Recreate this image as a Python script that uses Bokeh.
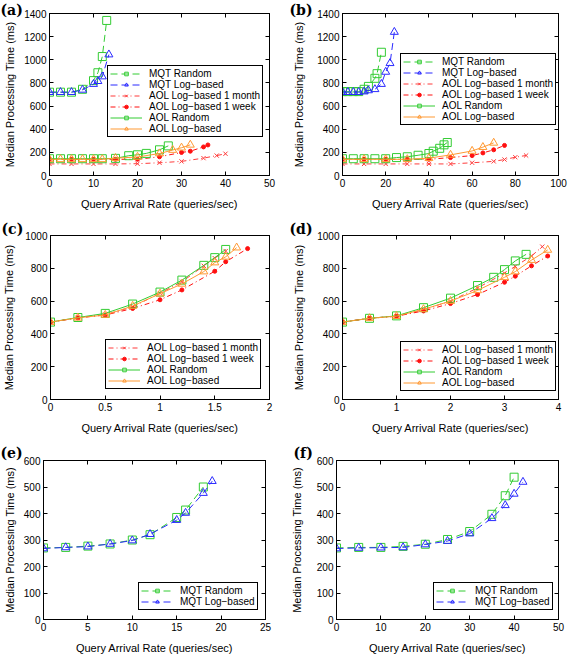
from bokeh.plotting import figure
from bokeh.layouts import column, row
from bokeh.models import FixedTicker, Legend, LegendItem, Title, LinearAxis, Range1d
from bokeh.embed import file_html
from bokeh.resources import INLINE

# ---------------- data ----------------
# Panel (a)
A_MQT_R_X = [0, 2.5, 5, 7.5, 10, 11, 12, 13]
A_MQT_R_Y = [720, 720, 720, 745, 820, 888, 1028, 1340]
A_MQT_L_X = [0, 2.5, 5, 7.5, 10, 11, 12, 13.5]
A_MQT_L_Y = [720, 720, 720, 740, 790, 815, 855, 1045]
A_AOL_M_X = [0, 5, 10, 15, 20, 25, 30, 35, 38, 40]
A_AOL_M_Y = [100, 100, 100, 100, 102, 110, 122, 150, 172, 188]
A_AOL_W_X = [0, 5, 10, 15, 20, 25, 30, 32, 35, 36]
A_AOL_W_Y = [140, 140, 140, 140, 140, 162, 199, 210, 247, 264]
A_AOL_R_X = [0, 2.5, 5, 7.5, 10, 12, 15, 18, 20, 22, 25, 27]
A_AOL_R_Y = [145, 145, 145, 145, 145, 145, 148, 171, 179, 191, 222, 256]
A_AOL_L_X = [0, 2.5, 5, 7.5, 10, 12, 15, 20, 25, 28, 30, 32]
A_AOL_L_Y = [140, 140, 140, 140, 140, 140, 150, 160, 190, 220, 240, 265]

# Panel (b)
B_MQT_R_X = [0, 2.5, 5, 7.5, 10, 12, 15, 16, 18]
B_MQT_R_Y = [725, 725, 725, 725, 745, 770, 840, 880, 1065]
B_MQT_L_X = [0, 2.5, 5, 7.5, 10, 12, 15, 18, 20, 22, 24]
B_MQT_L_Y = [720, 720, 720, 720, 725, 735, 745, 790, 895, 970, 1240]
B_AOL_M_X = [0, 10, 20, 30, 40, 50, 60, 70, 75, 80, 85]
B_AOL_M_Y = [100, 100, 100, 100, 100, 100, 110, 122, 138, 158, 173]
B_AOL_W_X = [0, 10, 20, 30, 40, 50, 60, 65, 70, 75]
B_AOL_W_Y = [140, 140, 140, 140, 140, 155, 172, 195, 222, 260]
B_AOL_R_X = [0, 5, 10, 15, 20, 25, 30, 35, 40, 42, 45, 47, 48.5]
B_AOL_R_Y = [145, 145, 145, 145, 145, 155, 162, 175, 190, 210, 235, 265, 285]
B_AOL_L_X = [0, 10, 20, 30, 40, 50, 60, 65, 70]
B_AOL_L_Y = [140, 140, 140, 140, 150, 178, 212, 245, 282]

# Panel (c)
C_AOL_M_X = [0, 0.25, 0.5, 0.75, 1.0, 1.2, 1.4, 1.5, 1.6]
C_AOL_M_Y = [472, 498, 518, 565, 648, 718, 815, 862, 905]
C_AOL_W_X = [0, 0.25, 0.5, 0.75, 1.0, 1.2, 1.5, 1.6, 1.8]
C_AOL_W_Y = [472, 498, 515, 555, 608, 668, 782, 840, 920]
C_AOL_R_X = [0, 0.25, 0.5, 0.75, 1.0, 1.2, 1.4, 1.5, 1.6]
C_AOL_R_Y = [472, 500, 525, 582, 655, 728, 818, 865, 915]
C_AOL_L_X = [0, 0.25, 0.5, 0.75, 1.0, 1.2, 1.4, 1.5, 1.6, 1.7]
C_AOL_L_Y = [472, 498, 515, 570, 645, 705, 780, 835, 870, 926]

# Panel (d)
D_AOL_M_X = [0, 0.5, 1, 1.5, 2, 2.5, 3, 3.2, 3.5, 3.7]
D_AOL_M_Y = [472, 495, 508, 548, 600, 680, 770, 812, 875, 932]
D_AOL_W_X = [0, 0.5, 1, 1.5, 2, 2.5, 3, 3.2, 3.5, 3.8]
D_AOL_W_Y = [472, 495, 508, 540, 585, 640, 715, 752, 815, 875]
D_AOL_R_X = [0, 0.5, 1, 1.5, 2, 2.5, 2.8, 3, 3.2, 3.4]
D_AOL_R_Y = [472, 495, 510, 560, 618, 695, 745, 792, 845, 885]
D_AOL_L_X = [0, 0.5, 1, 1.5, 2, 2.5, 3, 3.2, 3.5, 3.8]
D_AOL_L_Y = [472, 495, 508, 550, 600, 665, 745, 780, 850, 912]

# Panel (e)
E_MQT_R_X = [0, 2.5, 5, 7.5, 10, 12, 15, 16, 18]
E_MQT_R_Y = [270, 272, 277, 285, 300, 320, 385, 413, 500]
E_MQT_L_X = [0, 2.5, 5, 7.5, 10, 12, 15, 16, 18, 19]
E_MQT_L_Y = [268, 272, 275, 285, 298, 322, 375, 402, 477, 522]

# Panel (f)
F_MQT_R_X = [0, 5, 10, 15, 20, 25, 30, 35, 38, 40]
F_MQT_R_Y = [270, 272, 272, 276, 284, 302, 332, 397, 467, 537]
F_MQT_L_X = [0, 5, 10, 15, 20, 25, 30, 35, 38, 40, 42]
F_MQT_L_Y = [268, 270, 271, 272, 283, 296, 324, 382, 431, 474, 519]

LABEL_MQT_R = "MQT Random"
LABEL_MQT_L = "MQT Log\u2212based"
LABEL_AOL_M = "AOL Log\u2212based 1 month"
LABEL_AOL_W = "AOL Log\u2212based 1 week"
LABEL_AOL_R = "AOL Random"
LABEL_AOL_L = "AOL Log\u2212based"

X_LABEL = "Query Arrival Rate (queries/sec)"
Y_LABEL = "Median Processing Time (ms)"

TICKS_A_X = [0, 10, 20, 30, 40, 50]
TICKS_B_X = [0, 20, 40, 60, 80, 100]
TICKS_C_X = [0, 0.5, 1, 1.5, 2]
TICKS_D_X = [0, 1, 2, 3, 4]
TICKS_E_X = [0, 5, 10, 15, 20, 25]
TICKS_F_X = [0, 10, 20, 30, 40, 50]
TICKS_AB_Y = [0, 200, 400, 600, 800, 1000, 1200, 1400]
TICKS_CD_Y = [0, 200, 400, 600, 800, 1000]
TICKS_EF_Y = [0, 100, 200, 300, 400, 500, 600]

# ---------------- styles ----------------
FONT = "Liberation Sans"
STYLES = {
    "mqt_r": dict(color="#33cc33", dash="7 4", marker="square", size=8, fill=None),
    "mqt_l": dict(color="#2a2aff", dash="7 4", marker="triangle", size=8, fill=None),
    "aol_m": dict(color="#ff3b3b", dash="5 3 1 3", marker="x", size=6, fill=None),
    "aol_w": dict(color="#ff1010", dash="5 3 1 3", marker="circle", size=4, fill="#ff1010"),
    "aol_r": dict(color="#33cc33", dash="solid", marker="square", size=8, fill=None),
    "aol_l": dict(color="#ff9933", dash="solid", marker="triangle", size=8, fill=None),
}


def make_fig(width, height, bl, br, bt, bb, xmax, xticks, ymax, yticks, tag, tag_x,
             ylab_standoff, tag_standoff):
    p = figure(width=width, height=height, output_backend="svg", toolbar_location=None,
               x_range=Range1d(0, xmax), y_range=Range1d(0, ymax),
               min_border_left=bl, min_border_right=br, min_border_top=bt, min_border_bottom=bb)
    p.xgrid.visible = False
    p.ygrid.visible = False
    p.outline_line_color = "black"
    p.outline_line_width = 1
    p.outline_line_alpha = 1
    for ax, ticks in ((p.xaxis[0], xticks), (p.yaxis[0], yticks)):
        ax.ticker = FixedTicker(ticks=ticks)
        ax.major_tick_in = 4
        ax.major_tick_out = 0
        ax.minor_tick_line_color = None
        ax.axis_line_color = "black"
        ax.major_tick_line_color = "black"
        ax.major_label_text_font = FONT
        ax.major_label_text_font_size = "10px"
        ax.major_label_text_color = "black"
        ax.major_label_standoff = 3
        ax.axis_label_text_font = FONT
        ax.axis_label_text_font_size = "11px"
        ax.axis_label_text_font_style = "normal"
        ax.axis_label_text_color = "black"
    p.xaxis[0].axis_label = X_LABEL
    p.yaxis[0].axis_label = Y_LABEL
    p.xaxis[0].axis_label_standoff = 8
    p.yaxis[0].axis_label_standoff = ylab_standoff
    # mirrored ticks on top and right (no labels)
    for loc, ticks in (("above", xticks), ("right", yticks)):
        ax = LinearAxis(ticker=FixedTicker(ticks=ticks), major_tick_in=4, major_tick_out=0,
                        minor_tick_line_color=None, major_label_text_font_size="1px",
                        major_label_text_color=None, major_label_standoff=0,
                        axis_line_color="black")
        p.add_layout(ax, loc)
    t = Title(text=tag, align="left", offset=tag_x - bl, text_font="DejaVu Serif",
              text_font_style="bold", text_font_size="14px", text_color="black")
    try:
        t.standoff = tag_standoff
    except Exception:
        t.standoff = 0
    p.add_layout(t, "above")
    return p


def add_series(p, key, xs, ys, label, items):
    st = STYLES[key]
    r1 = p.line(xs, ys, line_color=st["color"], line_width=1, line_dash=st["dash"])
    r2 = p.scatter(xs, ys, marker=st["marker"], size=st["size"], line_color=st["color"],
                   fill_color=st["fill"], line_width=1)
    items.append(LegendItem(label=label, renderers=[r1, r2]))


def add_legend(p, items, x, y):
    lg = Legend(items=items, location=(x, y), label_text_font=FONT, label_text_font_size="10px",
                label_text_color="black",
                glyph_width=32, glyph_height=9, label_height=9,
                spacing=0, padding=2, margin=0, label_standoff=7,
                border_line_color="black", border_line_width=1, border_line_alpha=1,
                background_fill_color="white", background_fill_alpha=1)
    p.add_layout(lg)


# (a)  frame 49-269 x, 11-175 y
pa = make_fig(284, 218, 49, 15, 11, 43, 50, TICKS_A_X, 1400, TICKS_AB_Y, "(a)", 0, 5, -8)
it = []
add_series(pa, "mqt_r", A_MQT_R_X, A_MQT_R_Y, LABEL_MQT_R, it)
add_series(pa, "mqt_l", A_MQT_L_X, A_MQT_L_Y, LABEL_MQT_L, it)
add_series(pa, "aol_m", A_AOL_M_X, A_AOL_M_Y, LABEL_AOL_M, it)
add_series(pa, "aol_w", A_AOL_W_X, A_AOL_W_Y, LABEL_AOL_W, it)
add_series(pa, "aol_r", A_AOL_R_X, A_AOL_R_Y, LABEL_AOL_R, it)
add_series(pa, "aol_l", A_AOL_L_X, A_AOL_L_Y, LABEL_AOL_L, it)
add_legend(pa, it, 58, 38)

# (b)  frame 342-558 x, 13-176 y
pb = make_fig(284, 218, 58, 10, 13, 42, 100, TICKS_B_X, 1400, TICKS_AB_Y, "(b)", 5, 9, -8)
it = []
add_series(pb, "mqt_r", B_MQT_R_X, B_MQT_R_Y, LABEL_MQT_R, it)
add_series(pb, "mqt_l", B_MQT_L_X, B_MQT_L_Y, LABEL_MQT_L, it)
add_series(pb, "aol_m", B_AOL_M_X, B_AOL_M_Y, LABEL_AOL_M, it)
add_series(pb, "aol_w", B_AOL_W_X, B_AOL_W_Y, LABEL_AOL_W, it)
add_series(pb, "aol_r", B_AOL_R_X, B_AOL_R_Y, LABEL_AOL_R, it)
add_series(pb, "aol_l", B_AOL_L_X, B_AOL_L_Y, LABEL_AOL_L, it)
add_legend(pb, it, 58, 50)

# (c)  frame 49-269 x, 235-400 y
pc = make_fig(284, 218, 49, 15, 17, 36, 2, TICKS_C_X, 1000, TICKS_CD_Y, "(c)", 0, 7, -3)
it = []
add_series(pc, "aol_m", C_AOL_M_X, C_AOL_M_Y, LABEL_AOL_M, it)
add_series(pc, "aol_w", C_AOL_W_X, C_AOL_W_Y, LABEL_AOL_W, it)
add_series(pc, "aol_r", C_AOL_R_X, C_AOL_R_Y, LABEL_AOL_R, it)
add_series(pc, "aol_l", C_AOL_L_X, C_AOL_L_Y, LABEL_AOL_L, it)
add_legend(pc, it, 55, 10)

# (d)  frame 342-558 x, 235-400 y
pd_ = make_fig(284, 218, 58, 10, 17, 36, 4, TICKS_D_X, 1000, TICKS_CD_Y, "(d)", 5, 9, -3)
it = []
add_series(pd_, "aol_m", D_AOL_M_X, D_AOL_M_Y, LABEL_AOL_M, it)
add_series(pd_, "aol_w", D_AOL_W_X, D_AOL_W_Y, LABEL_AOL_W, it)
add_series(pd_, "aol_r", D_AOL_R_X, D_AOL_R_Y, LABEL_AOL_R, it)
add_series(pd_, "aol_l", D_AOL_L_X, D_AOL_L_Y, LABEL_AOL_L, it)
add_legend(pd_, it, 58, 8)

# (e)  frame 43-265 x, 460-623 y
pe = make_fig(284, 220, 43, 19, 24, 33, 25, TICKS_E_X, 600, TICKS_EF_Y, "(e)", 0, 5, 0)
it = []
add_series(pe, "mqt_r", E_MQT_R_X, E_MQT_R_Y, LABEL_MQT_R, it)
add_series(pe, "mqt_l", E_MQT_L_X, E_MQT_L_Y, LABEL_MQT_L, it)
add_legend(pe, it, 95, 9)

# (f)  frame 336-558 x, 460-623 y
pf = make_fig(284, 220, 52, 10, 24, 33, 50, TICKS_F_X, 600, TICKS_EF_Y, "(f)", 9, 11, 0)
it = []
add_series(pf, "mqt_r", F_MQT_R_X, F_MQT_R_Y, LABEL_MQT_R, it)
add_series(pf, "mqt_l", F_MQT_L_X, F_MQT_L_Y, LABEL_MQT_L, it)
add_legend(pf, it, 97, 9)

layout = column(row(pa, pb), row(pc, pd_), row(pe, pf), spacing=0)
open("out.html", "w").write(file_html(layout, INLINE))
